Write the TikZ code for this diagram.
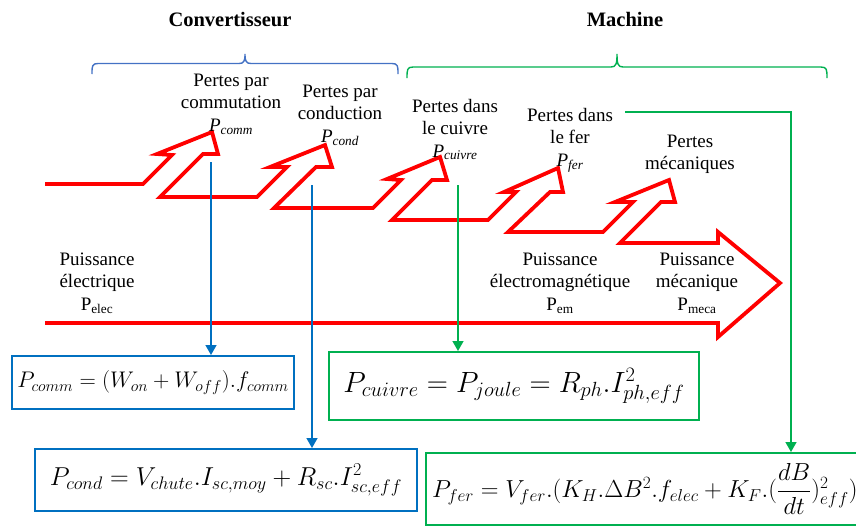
\RequirePackage{fix-cm}
\documentclass[tikz,border=0pt]{standalone}
\usepackage{amsmath}
\usepackage{fontspec}
\setmainfont{Liberation Serif}
\usetikzlibrary{arrows.meta}
\definecolor{redf}{RGB}{255,0,0}
\definecolor{bbr}{RGB}{68,114,196}
\definecolor{barr}{RGB}{0,112,192}
\definecolor{grn}{RGB}{0,176,80}
\begin{document}
\begin{tikzpicture}[x=1pt,y=-1pt,
  lbl/.style={align=center, font=\fontsize{19}{22.5}\selectfont, inner sep=0pt},
  ttl/.style={font=\fontsize{20.5}{24}\selectfont\bfseries, inner sep=0pt, anchor=base},
  flow/.style={draw=redf, line width=3.8pt, line join=miter},
  brk/.style={line width=1.4pt},
  conn/.style={line width=1.5pt, -{Triangle[length=10pt,width=11pt]}},
  fbox/.style={draw, line width=2pt, inner sep=0pt},
]
\useasboundingbox (0,0) rectangle (856,525);
\clip (0,0) rectangle (856,525);

% titles
\node[ttl] (tconv) at (230,26) {Convertisseur};
\node[ttl] (tmach) at (625,26) {Machine};

% brackets
\draw[brk, draw=bbr] (92,74) .. controls (92,66) and (92,63.5) .. (98,63.5) -- (239,63.5)
  .. controls (244,63.5) and (245,61) .. (245,54) .. controls (245,61) and (246,63.5) .. (251,63.5)
  -- (392,63.5) .. controls (398,63.5) and (398,66) .. (398,74);
\draw[brk, draw=grn] (407,78) .. controls (407,70) and (407,67) .. (413,67) -- (611,67)
  .. controls (616,67) and (617,64) .. (617,54) .. controls (617,64) and (618,67) .. (623,67)
  -- (821,67) .. controls (827,67) and (827,70) .. (827,78);

% red power flow
\draw[flow] (45,184) -- (143,184) -- (172,155) -- (157,154) -- (212,132) -- (218,154) -- (203,154)
  -- (160,197) -- (257,197) -- (287,167) -- (270,167) -- (325,145) -- (332,167) -- (316,167)
  -- (274,208) -- (373,208) -- (401,180) -- (387,179) -- (440,157) -- (447,180) -- (432,180)
  -- (392,220) -- (488,220) -- (516,192) -- (504,192) -- (558,168) -- (563,192) -- (550,192)
  -- (508,232) -- (603,232) -- (633,202) -- (615,202) -- (669,180) -- (675,202) -- (661,202)
  -- (620,243) -- (718,243) -- (718,232) -- (780,283) -- (718,337) -- (718,323) -- (45,323);

% loss labels
\node[lbl] (lcomm) at (231,104) {Pertes par\\commutation\\\textit{P}\textsubscript{\textit{comm}}};
\node[lbl] (lcond) at (340,115) {Pertes par\\conduction\\\textit{P}\textsubscript{\textit{cond}}};
\node[lbl] (lcuiv) at (455,129.5) {Pertes dans\\le cuivre\\\textit{P}\textsubscript{\textit{cuivre}}};
\node[lbl] (lfer) at (570,140) {Pertes dans\\le fer\\\textit{P}\textsubscript{\textit{fer}}};
\node[lbl] (lmec) at (690,154.5) {Pertes\\mécaniques};

% power labels
\node[lbl] (pelec) at (97,283) {Puissance\\électrique\\P\textsubscript{elec}};
\node[lbl] (pem) at (560,283) {Puissance\\électromagnétique\\P\textsubscript{em}};
\node[lbl] (pmeca) at (697,283) {Puissance\\mécanique\\P\textsubscript{meca}};

% formula boxes
\node[fbox, draw=barr, minimum width=282pt, minimum height=53pt] (b1) at (153,382.5)
  {\fontsize{22.6}{27}\selectfont $P_{comm} = (W_{on} + W_{off}).f_{comm}$};
\node[fbox, draw=barr, minimum width=382pt, minimum height=62pt] (b2) at (226,480)
  {\fontsize{25.9}{31}\selectfont $P_{cond} = V_{chute}.I_{sc,moy} + R_{sc}.I^2_{sc,eff}$};
\node[fbox, draw=grn, minimum width=370pt, minimum height=68pt] (b3) at (514,386)
  {\fontsize{29.3}{35}\selectfont $P_{cuivre} = P_{joule} = R_{ph}.I^2_{ph,eff}$};
\node[fbox, draw=grn, anchor=north west, minimum height=72pt, text width=450pt, inner xsep=6pt, align=left] (b4) at (425,452)
  {\fontsize{24.6}{29}\selectfont $P_{fer} = V_{fer}.(K_H.\Delta B^2.f_{elec} + K_F.(\dfrac{dB}{dt})^2_{eff})$};

% connectors
\coordinate (s1) at (211,162);
\coordinate (s2) at (312,185);
\coordinate (s3) at (458,185);
\coordinate (s4) at (625,112);
\coordinate (k4) at (791,112);
\draw[conn, draw=barr] (s1) -- (s1 |- b1.north);
\draw[conn, draw=barr] (s2) -- (s2 |- b2.north);
\draw[conn, draw=grn] (s3) -- (s3 |- b3.north);
\draw[conn, draw=grn] (s4) -- (k4) -- (k4 |- b4.north);
\end{tikzpicture}
\end{document}
